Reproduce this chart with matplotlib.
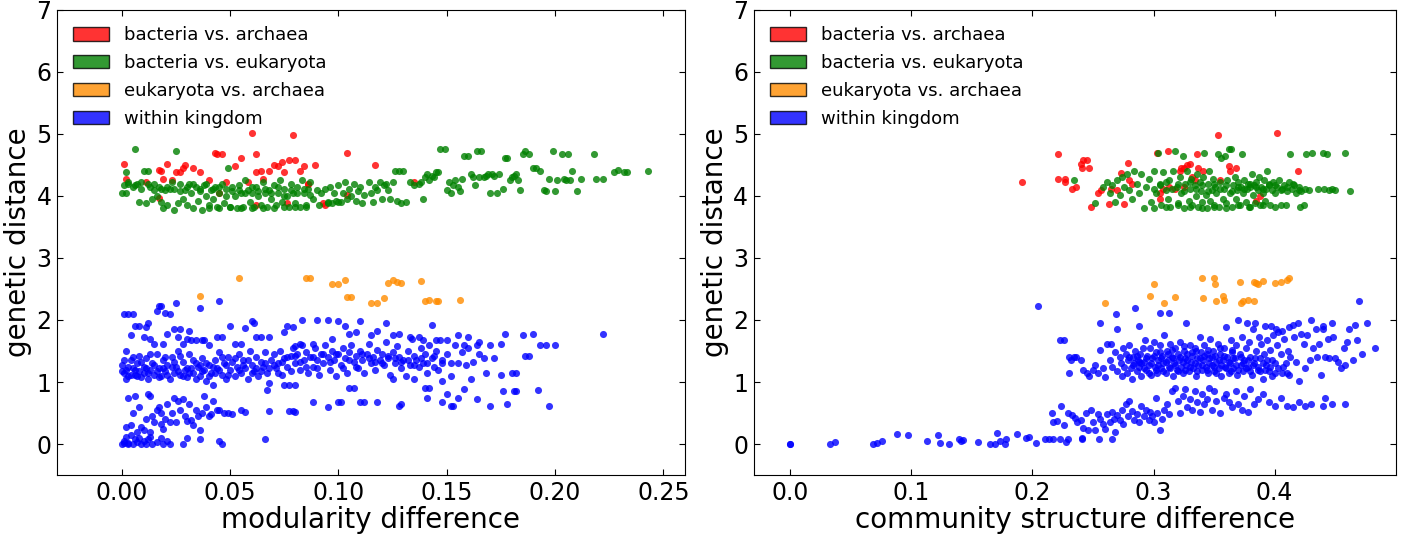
import matplotlib

matplotlib.use("Agg")

import numpy as np
import matplotlib.pyplot as plt
from matplotlib.patches import Patch

# ---- left panel: modularity difference vs genetic distance ----
mod_red = [
    (0.001, 4.52), (0.002, 4.27), (0.011, 4.22), (0.017, 4.42), (0.018, 4.40), (0.019, 4.28),
    (0.021, 4.52), (0.017, 3.97), (0.023, 4.25), (0.025, 4.38), (0.027, 4.38), (0.028, 4.45),
    (0.029, 4.50), (0.033, 4.45), (0.036, 4.38), (0.040, 4.25), (0.043, 4.70), (0.044, 4.68),
    (0.046, 4.67), (0.048, 4.22), (0.052, 4.48), (0.055, 4.62), (0.058, 4.22), (0.060, 5.02),
    (0.062, 4.68), (0.062, 4.38), (0.064, 4.40), (0.065, 4.28), (0.068, 4.40), (0.070, 4.50),
    (0.072, 4.48), (0.074, 4.55), (0.075, 4.38), (0.077, 4.58), (0.079, 4.98), (0.080, 4.58),
    (0.082, 4.40), (0.084, 4.48), (0.086, 4.20), (0.089, 4.50), (0.076, 3.88), (0.062, 3.85),
    (0.093, 3.88), (0.094, 3.85), (0.104, 4.70), (0.104, 4.02), (0.117, 4.50), (0.135, 4.22),
    (0.045, 4.05), (0.086, 4.20),
]

mod_green = [
    (0.000, 4.05), (0.001, 4.18), (0.002, 4.38), (0.002, 4.05), (0.003, 4.20), (0.005, 4.15),
    (0.006, 4.75), (0.007, 4.20), (0.008, 3.90), (0.009, 4.12), (0.010, 4.40), (0.011, 3.88),
    (0.012, 4.40), (0.013, 4.15), (0.014, 3.95), (0.015, 4.20), (0.016, 4.00), (0.017, 4.15),
    (0.018, 3.90), (0.019, 3.80), (0.020, 4.10), (0.021, 3.85), (0.022, 4.12), (0.023, 4.22),
    (0.024, 3.78), (0.025, 4.72), (0.026, 3.88), (0.027, 4.20), (0.028, 3.95), (0.029, 4.10),
    (0.030, 3.85), (0.031, 4.20), (0.032, 4.05), (0.033, 3.80), (0.034, 4.15), (0.035, 3.92),
    (0.036, 4.08), (0.037, 3.78), (0.038, 4.18), (0.039, 4.00), (0.040, 3.85), (0.041, 4.10),
    (0.042, 3.95), (0.043, 4.15), (0.044, 3.82), (0.045, 4.05), (0.046, 4.20), (0.047, 3.88),
    (0.048, 4.12), (0.049, 4.45), (0.050, 3.82), (0.051, 4.15), (0.052, 4.00), (0.053, 3.80),
    (0.054, 4.18), (0.055, 4.05), (0.056, 3.82), (0.057, 4.25), (0.058, 4.10), (0.059, 3.90),
    (0.060, 4.05), (0.061, 3.82), (0.062, 4.15), (0.063, 4.00), (0.064, 3.85), (0.065, 4.22),
    (0.066, 4.05), (0.067, 3.82), (0.068, 4.10), (0.069, 3.95), (0.070, 4.18), (0.071, 3.85),
    (0.072, 4.05), (0.073, 4.25), (0.074, 3.90), (0.075, 4.12), (0.076, 4.00), (0.077, 3.82),
    (0.078, 4.20), (0.079, 4.05), (0.080, 3.88), (0.081, 4.15), (0.082, 3.82), (0.083, 4.25),
    (0.084, 4.05), (0.085, 3.82), (0.086, 4.12), (0.087, 4.22), (0.088, 3.95), (0.090, 4.10),
    (0.091, 3.85), (0.092, 4.05), (0.094, 4.12), (0.095, 3.90), (0.096, 4.15), (0.097, 3.88),
    (0.098, 4.05), (0.099, 3.92), (0.100, 4.18), (0.101, 3.90), (0.102, 4.05), (0.103, 4.22),
    (0.104, 3.95), (0.105, 4.12), (0.106, 4.00), (0.107, 4.20), (0.108, 3.92), (0.109, 4.08),
    (0.110, 4.15), (0.111, 3.88), (0.112, 4.02), (0.114, 4.22), (0.115, 4.05), (0.116, 3.90),
    (0.117, 4.15), (0.118, 4.10), (0.119, 4.22), (0.120, 3.95), (0.121, 4.18), (0.122, 4.20),
    (0.123, 4.10), (0.124, 3.95), (0.125, 4.22), (0.126, 4.40), (0.127, 3.92), (0.128, 4.40),
    (0.129, 3.88), (0.130, 4.40), (0.131, 3.90), (0.133, 4.22), (0.135, 4.18), (0.137, 4.20),
    (0.138, 4.22), (0.139, 3.95), (0.140, 4.30), (0.141, 4.35), (0.142, 4.25), (0.143, 4.32),
    (0.144, 4.30), (0.145, 4.38), (0.146, 4.38), (0.147, 4.75), (0.149, 4.75), (0.150, 4.10),
    (0.151, 4.22), (0.152, 4.05), (0.153, 4.18), (0.154, 4.25), (0.155, 4.15), (0.156, 4.08),
    (0.157, 4.28), (0.158, 4.65), (0.160, 4.65), (0.161, 4.35), (0.162, 4.30), (0.163, 4.18),
    (0.164, 4.72), (0.165, 4.30), (0.166, 4.72), (0.167, 4.30), (0.168, 4.32), (0.169, 4.35),
    (0.170, 4.05), (0.171, 4.35), (0.172, 4.33), (0.173, 4.05), (0.174, 4.35), (0.176, 4.12),
    (0.177, 4.62), (0.178, 4.62), (0.179, 4.25), (0.180, 4.30), (0.181, 4.32), (0.182, 4.35),
    (0.183, 4.25), (0.184, 4.10), (0.185, 4.68), (0.186, 4.72), (0.188, 4.68), (0.190, 4.45),
    (0.191, 4.45), (0.193, 4.40), (0.195, 4.10), (0.196, 4.08), (0.197, 4.28), (0.199, 4.72),
    (0.200, 4.08), (0.201, 4.25), (0.203, 4.68), (0.204, 4.28), (0.205, 4.25), (0.206, 4.68),
    (0.207, 4.25), (0.208, 4.40), (0.210, 4.08), (0.212, 4.28), (0.218, 4.68), (0.219, 4.28),
    (0.222, 4.28), (0.227, 4.38), (0.229, 4.42), (0.232, 4.38), (0.233, 4.38), (0.243, 4.40),
    (0.003, 4.22), (0.006, 4.18), (0.009, 4.22), (0.012, 4.20), (0.015, 4.10), (0.018, 4.12),
    (0.021, 4.15), (0.024, 4.12), (0.027, 4.08), (0.030, 4.15), (0.033, 4.20), (0.036, 4.12),
    (0.039, 4.20), (0.042, 4.12), (0.045, 4.15), (0.048, 4.00), (0.051, 4.08), (0.054, 4.10),
    (0.057, 4.05), (0.060, 4.15), (0.063, 4.08), (0.066, 4.12), (0.069, 4.05), (0.072, 4.15),
    (0.075, 4.00), (0.078, 4.10), (0.081, 4.05), (0.084, 4.12), (0.087, 4.02), (0.040, 3.80),
    (0.045, 3.80), (0.055, 3.80), (0.065, 3.80), (0.070, 3.80), (0.075, 3.82), (0.080, 3.82),
    (0.085, 3.85), (0.050, 3.82), (0.060, 3.80), (0.095, 3.88), (0.100, 3.90),
]

mod_orange = [
    (0.036, 2.38), (0.054, 2.68), (0.085, 2.68), (0.087, 2.68), (0.097, 2.58), (0.100, 2.58),
    (0.103, 2.65), (0.104, 2.37), (0.106, 2.37), (0.115, 2.28), (0.118, 2.28), (0.121, 2.35),
    (0.123, 2.60), (0.125, 2.65), (0.127, 2.62), (0.129, 2.60), (0.138, 2.63), (0.140, 2.30),
    (0.142, 2.33), (0.145, 2.30), (0.146, 2.30), (0.156, 2.33),
]

mod_blue = [
    # near-zero cluster
    (0.000, 0.00), (0.001, 0.05), (0.002, 0.12), (0.003, 0.02), (0.004, 0.15), (0.005, 0.00),
    (0.006, 0.08), (0.007, 0.03), (0.008, 0.10), (0.009, 0.00), (0.010, 0.05), (0.011, 0.00),
    (0.012, 0.08), (0.013, 0.12), (0.014, 0.00), (0.016, 0.03), (0.018, 0.10), (0.019, 0.00),
    (0.021, 0.05), (0.022, 0.00), (0.028, 0.00), (0.030, 0.10), (0.036, 0.08), (0.045, 0.05),
    (0.046, 0.00), (0.066, 0.08), (0.004, 0.30), (0.002, 0.28), (0.003, 0.00), (0.001, 0.02),
    # lower group
    (0.003, 0.75), (0.005, 0.50), (0.006, 0.78), (0.008, 0.60), (0.009, 0.28), (0.010, 0.23),
    (0.011, 0.40), (0.012, 0.80), (0.013, 0.78), (0.014, 0.45), (0.015, 0.35), (0.016, 0.55),
    (0.017, 0.60), (0.018, 0.50), (0.019, 0.25), (0.020, 0.40), (0.021, 0.65), (0.022, 0.35),
    (0.023, 0.50), (0.024, 0.75), (0.025, 0.36), (0.026, 0.70), (0.027, 0.55), (0.028, 0.72),
    (0.029, 0.45), (0.030, 0.37), (0.031, 0.65), (0.032, 0.38), (0.033, 0.30), (0.034, 0.55),
    (0.035, 0.45), (0.036, 0.22), (0.037, 0.50), (0.038, 0.78), (0.039, 0.60), (0.040, 0.45),
    (0.041, 0.48), (0.042, 0.70), (0.044, 0.55), (0.045, 0.55), (0.047, 0.50), (0.049, 0.50),
    (0.051, 0.48), (0.055, 0.55), (0.057, 0.52), (0.068, 0.53), (0.077, 0.53), (0.079, 0.53),
    (0.080, 0.52), (0.007, 0.20), (0.013, 0.20), (0.018, 0.32),
    # main band
    (0.000, 1.28), (0.001, 1.15), (0.002, 1.20), (0.002, 1.50), (0.003, 1.10), (0.004, 1.35),
    (0.005, 1.22), (0.006, 1.12), (0.007, 1.30), (0.008, 1.18), (0.008, 1.42), (0.009, 1.08),
    (0.010, 1.25), (0.011, 1.38), (0.012, 1.15), (0.013, 1.20), (0.014, 1.30), (0.015, 1.12),
    (0.016, 1.45), (0.017, 1.22), (0.018, 1.10), (0.019, 1.35), (0.020, 1.18), (0.021, 1.28),
    (0.022, 1.05), (0.023, 1.40), (0.024, 1.15), (0.025, 1.25), (0.026, 1.50), (0.027, 1.12),
    (0.028, 1.32), (0.029, 1.20), (0.030, 1.08), (0.031, 1.45), (0.032, 1.22), (0.033, 1.15),
    (0.034, 1.30), (0.035, 1.25), (0.036, 1.10), (0.037, 1.38), (0.038, 1.20), (0.039, 1.02),
    (0.040, 1.28), (0.041, 1.15), (0.042, 0.95), (0.043, 1.35), (0.044, 1.22), (0.045, 1.48),
    (0.046, 1.12), (0.047, 1.30), (0.048, 1.05), (0.049, 1.40), (0.050, 1.20), (0.051, 1.32),
    (0.052, 1.10), (0.053, 1.25), (0.054, 1.45), (0.055, 1.15), (0.056, 1.35), (0.057, 1.22),
    (0.058, 1.05), (0.059, 1.50), (0.060, 1.28), (0.061, 1.18), (0.062, 1.40), (0.063, 1.10),
    (0.064, 1.32), (0.065, 1.25), (0.066, 1.48), (0.067, 1.15), (0.068, 0.98), (0.069, 1.35),
    (0.070, 1.45), (0.071, 1.22), (0.072, 1.30), (0.073, 1.50), (0.074, 1.12), (0.075, 1.38),
    (0.076, 1.25), (0.077, 0.95), (0.078, 1.42), (0.079, 1.55), (0.080, 1.30), (0.081, 1.45),
    (0.082, 1.20), (0.083, 1.60), (0.084, 1.35), (0.085, 1.48), (0.086, 1.15), (0.087, 1.40),
    (0.088, 1.25), (0.089, 1.55), (0.090, 1.35), (0.091, 1.12), (0.092, 1.45), (0.093, 1.30),
    (0.094, 1.60), (0.095, 1.40), (0.096, 1.20), (0.097, 1.50), (0.098, 1.35), (0.099, 1.10),
    (0.100, 1.45), (0.101, 1.28), (0.102, 1.55), (0.103, 1.38), (0.104, 1.15), (0.105, 1.48),
    (0.106, 1.60), (0.107, 1.32), (0.108, 1.42), (0.109, 1.22), (0.110, 1.50), (0.111, 1.35),
    (0.112, 1.15), (0.113, 1.45), (0.114, 1.62), (0.115, 1.30), (0.116, 1.40), (0.117, 1.20),
    (0.118, 1.52), (0.119, 1.35), (0.120, 1.45), (0.121, 1.28), (0.122, 1.65), (0.123, 1.38),
    (0.124, 1.12), (0.125, 1.48), (0.126, 1.30), (0.127, 1.58), (0.128, 1.40), (0.129, 1.22),
    (0.130, 1.35), (0.131, 1.10), (0.132, 1.50), (0.133, 1.28), (0.134, 1.70), (0.135, 1.42),
    (0.136, 1.35), (0.137, 1.25), (0.138, 1.55), (0.139, 1.30), (0.140, 1.45), (0.141, 1.15),
    (0.142, 1.60), (0.143, 1.38), (0.144, 1.25), (0.145, 1.50), (0.146, 1.20), (0.147, 1.68),
    (0.148, 1.30), (0.150, 1.45), (0.152, 1.10), (0.154, 1.60), (0.155, 1.30), (0.157, 1.48),
    (0.159, 1.28), (0.160, 1.55), (0.162, 1.32), (0.164, 1.60), (0.165, 1.45), (0.167, 1.38),
    (0.168, 1.15), (0.170, 1.60), (0.172, 1.38), (0.175, 1.12), (0.177, 1.78), (0.180, 1.15),
    (0.182, 1.15), (0.185, 1.75), (0.188, 1.42), (0.190, 1.78), (0.193, 1.60), (0.196, 1.60),
    (0.200, 1.60), (0.222, 1.78),
    (0.000, 1.18), (0.001, 1.35), (0.002, 1.05), (0.003, 1.25), (0.004, 1.12), (0.005, 1.40),
    (0.006, 1.20), (0.007, 1.10), (0.009, 1.32), (0.010, 1.15), (0.011, 1.22), (0.012, 1.05),
    (0.013, 1.45), (0.015, 1.28), (0.016, 1.18), (0.017, 1.08), (0.019, 1.22), (0.020, 1.40),
    (0.021, 1.12), (0.023, 1.25), (0.024, 1.32), (0.026, 1.18), (0.027, 1.42), (0.028, 1.10),
    (0.030, 1.22), (0.031, 1.15), (0.033, 1.35), (0.034, 1.05), (0.036, 1.28), (0.037, 1.18),
    (0.039, 1.30), (0.040, 1.10), (0.042, 1.25), (0.043, 1.15), (0.045, 1.20), (0.046, 1.40),
    (0.048, 1.28), (0.049, 1.12), (0.052, 1.38), (0.054, 1.20), (0.056, 1.28), (0.058, 1.35),
    (0.060, 1.15), (0.062, 1.22), (0.064, 1.18), (0.066, 1.30), (0.068, 1.22), (0.070, 1.28),
    (0.072, 1.15), (0.074, 1.32), (0.076, 1.40), (0.078, 1.18), (0.080, 1.42), (0.082, 1.32),
    (0.085, 1.25), (0.088, 1.40), (0.090, 1.22), (0.093, 1.45), (0.096, 1.32), (0.099, 1.45),
    (0.102, 1.22), (0.105, 1.35), (0.108, 1.25), (0.111, 1.45), (0.114, 1.38), (0.117, 1.32),
    (0.120, 1.30), (0.123, 1.42), (0.126, 1.38), (0.129, 1.32), (0.132, 1.35), (0.135, 1.28),
    (0.138, 1.38), (0.141, 1.30), (0.144, 1.42), (0.148, 1.35), (0.152, 1.30),
    # upper sparse
    (0.001, 2.10), (0.003, 2.10), (0.005, 2.10), (0.004, 1.75), (0.006, 1.90), (0.008, 1.90),
    (0.010, 1.72), (0.011, 1.88), (0.012, 1.95), (0.013, 1.70), (0.015, 1.62), (0.016, 2.15),
    (0.017, 2.22), (0.018, 2.22), (0.019, 1.62), (0.020, 2.12), (0.021, 1.78), (0.022, 2.10),
    (0.024, 1.85), (0.025, 2.28), (0.026, 1.72), (0.027, 1.85), (0.028, 1.62), (0.030, 1.70),
    (0.031, 1.82), (0.032, 1.68), (0.034, 1.68), (0.036, 2.20), (0.037, 1.68), (0.038, 1.68),
    (0.040, 1.60), (0.044, 1.72), (0.045, 2.30), (0.046, 1.72), (0.050, 1.90), (0.052, 1.62),
    (0.055, 1.62), (0.057, 1.87), (0.060, 1.98), (0.061, 1.95), (0.062, 1.72), (0.064, 1.72),
    (0.068, 1.72), (0.075, 1.80), (0.076, 1.90), (0.079, 1.88), (0.080, 1.58), (0.082, 1.62),
    (0.083, 2.00), (0.088, 1.62), (0.090, 2.00), (0.095, 2.00), (0.097, 1.70), (0.100, 1.98),
    (0.103, 1.90), (0.105, 1.78), (0.108, 1.80), (0.110, 1.98), (0.115, 1.75), (0.118, 1.82),
    (0.122, 1.95), (0.125, 1.75), (0.128, 1.78), (0.133, 1.72), (0.137, 1.72), (0.139, 1.68),
    (0.143, 1.92), (0.145, 1.68), (0.150, 1.68), (0.155, 1.75), (0.160, 1.72), (0.158, 1.60),
    (0.165, 1.65), (0.175, 1.62),
    # lower sparse, right side
    (0.067, 0.87), (0.075, 0.95), (0.080, 0.95), (0.088, 0.68), (0.095, 0.60), (0.100, 0.68),
    (0.101, 0.68), (0.105, 0.90), (0.107, 0.90), (0.110, 0.67), (0.112, 0.67), (0.118, 0.68),
    (0.128, 0.62), (0.129, 0.65), (0.140, 0.90), (0.142, 0.90), (0.141, 0.75), (0.148, 0.68),
    (0.150, 0.80), (0.152, 0.62), (0.153, 0.62), (0.155, 0.75), (0.158, 0.88), (0.164, 0.72),
    (0.170, 0.62), (0.176, 0.85), (0.178, 0.65), (0.181, 0.85), (0.182, 0.85), (0.192, 0.87),
    (0.197, 0.62), (0.125, 1.05), (0.135, 1.05), (0.148, 1.02), (0.161, 1.05), (0.186, 1.42),
]

# ---- right panel: community structure difference vs genetic distance ----
com_red = [
    (0.191, 4.22), (0.221, 4.67), (0.221, 4.28), (0.227, 4.28), (0.227, 4.22), (0.233, 4.12),
    (0.236, 4.15), (0.240, 4.52), (0.241, 4.45), (0.242, 4.58), (0.245, 4.58), (0.247, 4.45),
    (0.248, 3.82), (0.254, 4.05), (0.257, 4.10), (0.263, 3.87), (0.265, 4.12), (0.270, 4.10),
    (0.273, 4.37), (0.276, 3.87), (0.279, 4.53), (0.280, 4.25), (0.282, 4.20), (0.303, 4.70),
    (0.305, 3.95), (0.308, 4.12), (0.312, 4.73), (0.313, 4.15), (0.318, 4.12), (0.322, 4.40),
    (0.323, 4.45), (0.325, 4.45), (0.325, 4.15), (0.328, 4.50), (0.330, 4.52), (0.332, 4.30),
    (0.334, 4.25), (0.336, 4.68), (0.337, 4.45), (0.341, 4.40), (0.353, 4.98), (0.355, 4.25),
    (0.362, 4.48), (0.363, 4.40), (0.368, 4.45), (0.385, 3.92), (0.388, 4.00), (0.402, 5.02),
    (0.419, 4.40), (0.305, 4.05),
]

com_green = [
    (0.234, 4.25), (0.252, 3.88), (0.258, 4.15), (0.262, 4.22), (0.264, 4.05), (0.266, 4.18),
    (0.268, 3.90), (0.270, 4.25), (0.272, 4.02), (0.274, 4.30), (0.276, 4.15), (0.278, 4.35),
    (0.280, 4.10), (0.282, 3.95), (0.284, 4.40), (0.286, 4.20), (0.288, 4.05), (0.290, 4.35),
    (0.292, 3.80), (0.294, 4.15), (0.296, 4.28), (0.298, 3.90), (0.300, 4.40), (0.302, 4.05),
    (0.304, 4.70), (0.305, 4.20), (0.306, 3.85), (0.308, 4.38), (0.310, 4.10), (0.312, 3.95),
    (0.313, 4.25), (0.314, 3.82), (0.316, 4.40), (0.318, 4.72), (0.319, 4.15), (0.320, 3.88),
    (0.322, 4.30), (0.323, 4.05), (0.324, 4.65), (0.325, 3.80), (0.326, 4.20), (0.328, 4.40),
    (0.329, 3.92), (0.330, 4.12), (0.331, 4.28), (0.332, 3.85), (0.334, 4.18), (0.335, 4.00),
    (0.336, 4.35), (0.337, 3.82), (0.338, 4.22), (0.339, 4.08), (0.340, 3.90), (0.341, 4.30),
    (0.342, 4.70), (0.343, 4.02), (0.344, 3.80), (0.345, 4.20), (0.346, 4.40), (0.347, 3.92),
    (0.348, 4.10), (0.349, 4.28), (0.350, 3.85), (0.351, 4.15), (0.352, 4.05), (0.353, 4.68),
    (0.354, 3.82), (0.355, 4.22), (0.356, 4.62), (0.357, 3.95), (0.358, 4.12), (0.359, 4.65),
    (0.360, 3.88), (0.361, 4.25), (0.362, 4.75), (0.363, 4.05), (0.364, 4.75), (0.365, 3.82),
    (0.366, 4.18), (0.367, 4.30), (0.368, 3.95), (0.369, 4.10), (0.370, 4.22), (0.371, 3.85),
    (0.372, 4.15), (0.373, 4.68), (0.374, 4.05), (0.375, 4.25), (0.376, 3.90), (0.377, 4.12),
    (0.378, 4.20), (0.379, 3.82), (0.380, 4.15), (0.381, 4.35), (0.382, 4.02), (0.383, 4.18),
    (0.384, 3.88), (0.385, 4.22), (0.386, 4.10), (0.387, 4.30), (0.388, 3.85), (0.389, 4.15),
    (0.390, 4.05), (0.391, 4.25), (0.392, 3.92), (0.393, 4.12), (0.394, 4.40), (0.395, 4.18),
    (0.396, 3.85), (0.398, 4.10), (0.399, 4.22), (0.400, 4.05), (0.402, 4.15), (0.404, 4.25),
    (0.405, 3.85), (0.406, 4.12), (0.408, 4.18), (0.409, 3.85), (0.410, 4.08), (0.412, 4.22),
    (0.413, 4.68), (0.414, 4.12), (0.416, 4.18), (0.418, 4.05), (0.420, 4.15), (0.421, 3.82),
    (0.422, 4.08), (0.424, 3.85), (0.425, 4.12), (0.426, 4.68), (0.428, 4.10), (0.431, 4.70),
    (0.436, 4.12), (0.440, 4.70), (0.441, 4.12), (0.443, 4.68), (0.445, 4.10), (0.447, 4.12),
    (0.450, 4.10), (0.458, 4.70), (0.462, 4.08),
    (0.300, 4.12), (0.305, 4.18), (0.310, 4.22), (0.315, 4.12), (0.320, 4.20), (0.325, 4.08),
    (0.330, 4.22), (0.335, 4.12), (0.340, 4.18), (0.345, 4.08), (0.350, 4.20), (0.355, 4.12),
    (0.360, 4.18), (0.365, 4.08), (0.370, 4.15), (0.375, 4.12), (0.380, 4.20), (0.385, 4.15),
    (0.390, 4.12), (0.395, 4.20), (0.400, 4.18), (0.405, 4.10), (0.410, 4.15), (0.415, 4.20),
    (0.420, 4.10), (0.330, 3.82), (0.340, 3.80), (0.350, 3.82), (0.360, 3.80), (0.370, 3.85),
    (0.380, 3.82), (0.390, 3.85), (0.400, 3.82), (0.300, 3.80), (0.310, 3.82), (0.320, 3.85),
]

com_orange = [
    (0.260, 2.27), (0.297, 2.38), (0.300, 2.58), (0.309, 2.28), (0.318, 2.37), (0.340, 2.68),
    (0.341, 2.35), (0.350, 2.68), (0.351, 2.58), (0.352, 2.30), (0.357, 2.38), (0.358, 2.33),
    (0.371, 2.62), (0.372, 2.28), (0.374, 2.30), (0.378, 2.33), (0.383, 2.62), (0.385, 2.60),
    (0.386, 2.58), (0.383, 2.30), (0.390, 2.63), (0.400, 2.60), (0.405, 2.62), (0.410, 2.65),
    (0.412, 2.68),
]

com_blue = [
    # low tail
    (0.000, 0.00), (0.000, 0.00), (0.033, 0.00), (0.037, 0.04), (0.068, 0.00), (0.072, 0.01),
    (0.076, 0.05), (0.088, 0.16), (0.097, 0.15), (0.113, 0.05), (0.122, 0.14), (0.124, 0.01),
    (0.131, 0.00), (0.139, 0.08), (0.141, 0.05), (0.143, 0.07), (0.155, 0.04), (0.165, 0.00),
    (0.169, 0.00), (0.171, 0.18), (0.173, 0.05), (0.177, 0.00), (0.178, 0.08), (0.187, 0.16),
    (0.195, 0.09), (0.197, 0.12), (0.203, 0.01), (0.210, 0.08), (0.214, 0.08), (0.217, 0.08),
    (0.223, 0.08), (0.228, 0.04), (0.229, 0.08), (0.241, 0.09), (0.241, 0.08), (0.255, 0.08),
    (0.266, 0.08),
    # rising part
    (0.205, 2.22), (0.224, 0.62), (0.216, 0.50), (0.217, 0.36), (0.220, 0.37), (0.226, 0.30),
    (0.229, 0.50), (0.233, 0.47), (0.235, 0.42), (0.237, 0.35), (0.240, 0.38), (0.242, 0.26),
    (0.244, 0.50), (0.246, 0.22), (0.248, 0.55), (0.250, 0.35), (0.252, 0.22), (0.254, 0.48),
    (0.256, 0.40), (0.258, 0.33), (0.260, 0.25), (0.262, 0.48), (0.264, 0.35), (0.266, 0.52),
    (0.267, 0.40), (0.268, 0.20), (0.270, 0.47), (0.272, 0.38), (0.274, 0.55), (0.275, 0.32),
    (0.277, 0.65), (0.279, 0.45), (0.280, 0.70), (0.282, 0.53), (0.284, 0.38), (0.286, 0.48),
    (0.288, 0.35), (0.290, 0.62), (0.292, 0.45), (0.294, 0.55), (0.296, 0.38), (0.297, 0.52),
    (0.299, 0.45), (0.300, 0.35), (0.302, 0.75), (0.303, 0.50), (0.305, 0.22), (0.307, 0.40),
    (0.309, 0.55), (0.311, 0.65), (0.313, 0.48), (0.315, 0.85), (0.318, 0.90), (0.320, 0.70),
    (0.322, 0.50), (0.324, 0.78), (0.326, 0.88), (0.328, 0.60), (0.330, 0.72), (0.332, 0.55),
    (0.334, 0.85), (0.336, 0.68), (0.338, 0.52), (0.340, 0.80), (0.342, 0.65), (0.344, 0.72),
    (0.346, 0.90), (0.348, 0.55), (0.350, 0.85), (0.352, 0.70), (0.355, 0.50), (0.358, 0.75),
    (0.360, 0.80), (0.362, 0.68), (0.365, 0.60), (0.368, 0.85), (0.370, 0.65), (0.373, 0.55),
    (0.375, 0.78), (0.378, 0.52), (0.380, 0.88), (0.383, 0.65), (0.386, 0.72), (0.390, 0.80),
    (0.395, 0.68), (0.400, 0.62), (0.405, 0.75), (0.410, 0.62), (0.415, 0.60), (0.420, 0.68),
    (0.425, 0.62), (0.430, 0.65), (0.440, 0.62), (0.442, 0.75), (0.447, 0.65), (0.458, 0.65),
    # main cluster
    (0.223, 1.68), (0.226, 1.68), (0.230, 1.40), (0.232, 1.35), (0.234, 1.40), (0.236, 1.40),
    (0.230, 1.15), (0.240, 1.35), (0.242, 1.20), (0.245, 1.15), (0.247, 1.10), (0.250, 1.20),
    (0.252, 1.28), (0.254, 1.15), (0.256, 1.52), (0.256, 1.95), (0.258, 1.22), (0.260, 1.08),
    (0.262, 1.62), (0.264, 1.35), (0.265, 1.62), (0.266, 1.25), (0.268, 1.48), (0.269, 2.10),
    (0.270, 1.85), (0.270, 1.18), (0.272, 1.40), (0.273, 1.30), (0.274, 1.10), (0.275, 1.55),
    (0.276, 1.25), (0.277, 1.45), (0.278, 1.15), (0.279, 1.35), (0.280, 1.60), (0.281, 1.22),
    (0.282, 1.05), (0.283, 1.40), (0.284, 1.30), (0.285, 1.50), (0.285, 2.20), (0.286, 1.18),
    (0.287, 1.35), (0.288, 1.90), (0.288, 1.25), (0.289, 1.45), (0.290, 1.10), (0.291, 1.55),
    (0.292, 1.32), (0.293, 1.68), (0.294, 1.20), (0.295, 1.42), (0.296, 1.28), (0.297, 1.55),
    (0.298, 1.12), (0.299, 1.38), (0.300, 1.65), (0.301, 1.25), (0.302, 1.48), (0.303, 1.15),
    (0.304, 1.35), (0.305, 2.12), (0.305, 1.60), (0.306, 1.22), (0.307, 1.42), (0.308, 1.30),
    (0.309, 1.75), (0.310, 1.15), (0.311, 1.50), (0.312, 1.35), (0.313, 2.12), (0.313, 1.25),
    (0.314, 1.62), (0.315, 1.40), (0.316, 1.10), (0.317, 1.30), (0.318, 1.55), (0.319, 1.20),
    (0.320, 1.45), (0.321, 1.35), (0.322, 1.65), (0.323, 1.25), (0.324, 1.15), (0.325, 1.50),
    (0.326, 1.38), (0.327, 1.95), (0.327, 1.28), (0.328, 1.45), (0.329, 1.18), (0.330, 1.60),
    (0.331, 1.32), (0.332, 1.42), (0.333, 1.22), (0.334, 1.55), (0.335, 1.10), (0.336, 1.38),
    (0.337, 1.28), (0.338, 1.72), (0.339, 1.48), (0.340, 1.20), (0.341, 1.35), (0.342, 1.60),
    (0.343, 1.25), (0.344, 1.45), (0.345, 1.15), (0.346, 1.38), (0.347, 1.70), (0.348, 1.28),
    (0.349, 1.50), (0.350, 1.18), (0.351, 1.42), (0.352, 1.32), (0.353, 1.62), (0.354, 1.22),
    (0.355, 1.45), (0.356, 1.10), (0.357, 1.35), (0.358, 1.55), (0.359, 1.25), (0.360, 1.88),
    (0.361, 1.40), (0.362, 1.15), (0.363, 1.30), (0.364, 1.68), (0.365, 1.48), (0.366, 1.22),
    (0.367, 1.38), (0.368, 1.60), (0.369, 1.12), (0.370, 2.00), (0.371, 1.45), (0.372, 1.28),
    (0.373, 1.72), (0.374, 1.18), (0.375, 1.35), (0.376, 1.55), (0.377, 1.95), (0.378, 1.25),
    (0.379, 1.65), (0.380, 1.40), (0.381, 1.12), (0.382, 1.85), (0.383, 1.30), (0.384, 1.95),
    (0.385, 1.50), (0.386, 1.20), (0.387, 1.72), (0.388, 1.38), (0.389, 1.62), (0.390, 1.05),
    (0.391, 1.45), (0.392, 1.90), (0.393, 1.28), (0.394, 1.68), (0.395, 1.18), (0.396, 1.52),
    (0.397, 1.90), (0.398, 1.35), (0.399, 1.75), (0.400, 1.15), (0.401, 1.85), (0.402, 1.60),
    (0.403, 1.80), (0.405, 1.45), (0.406, 1.82), (0.407, 1.25), (0.408, 1.70), (0.410, 1.15),
    (0.411, 1.50), (0.412, 1.88), (0.413, 1.40), (0.415, 1.92), (0.416, 1.72), (0.418, 1.32),
    (0.419, 1.95), (0.420, 1.02), (0.422, 1.78), (0.424, 1.62), (0.425, 1.22), (0.427, 1.75),
    (0.429, 1.35), (0.430, 2.00), (0.432, 1.55), (0.434, 1.85), (0.435, 1.40), (0.437, 1.62),
    (0.438, 1.12), (0.440, 1.90), (0.440, 1.85), (0.442, 1.40), (0.444, 1.70), (0.445, 1.38),
    (0.447, 1.95), (0.448, 1.72), (0.450, 1.38), (0.452, 1.32), (0.455, 1.22), (0.457, 1.55),
    (0.458, 1.28), (0.460, 1.65), (0.461, 1.85), (0.465, 1.35), (0.466, 1.92), (0.468, 1.68),
    (0.470, 2.30), (0.472, 1.45), (0.476, 1.95), (0.483, 1.55),
    (0.290, 1.30), (0.292, 1.22), (0.294, 1.38), (0.296, 1.15), (0.298, 1.30), (0.300, 1.42),
    (0.302, 1.20), (0.304, 1.28), (0.306, 1.38), (0.308, 1.18), (0.310, 1.32), (0.312, 1.45),
    (0.314, 1.22), (0.316, 1.38), (0.318, 1.28), (0.320, 1.18), (0.322, 1.40), (0.324, 1.32),
    (0.326, 1.20), (0.328, 1.35), (0.330, 1.25), (0.332, 1.48), (0.334, 1.30), (0.336, 1.18),
    (0.338, 1.38), (0.340, 1.28), (0.342, 1.42), (0.344, 1.20), (0.346, 1.30), (0.348, 1.40),
    (0.350, 1.25), (0.352, 1.15), (0.354, 1.35), (0.356, 1.28), (0.358, 1.42), (0.360, 1.22),
    (0.362, 1.32), (0.364, 1.18), (0.366, 1.38), (0.368, 1.28), (0.370, 1.20), (0.372, 1.40),
    (0.374, 1.30), (0.376, 1.22), (0.378, 1.35), (0.380, 1.18), (0.382, 1.28), (0.384, 1.38),
    (0.386, 1.25), (0.388, 1.18), (0.390, 1.30), (0.392, 1.20), (0.394, 1.35), (0.396, 1.25),
    (0.398, 1.10), (0.400, 1.30), (0.403, 1.22), (0.406, 1.15), (0.409, 1.30), (0.412, 1.12),
    (0.280, 1.40), (0.283, 1.28), (0.286, 1.42), (0.288, 1.32), (0.305, 1.48), (0.315, 1.52),
    (0.325, 1.58), (0.335, 1.50), (0.345, 1.52), (0.355, 1.55), (0.365, 1.52),
]

labels = ["bacteria vs. archaea", "bacteria vs. eukaryota",
          "eukaryota vs. archaea", "within kingdom"]
colors = ["red", "green", "darkorange", "blue"]

panels = [
    ("modularity difference", [mod_red, mod_green, mod_orange, mod_blue],
     (-0.03, 0.26), [0.0, 0.05, 0.10, 0.15, 0.20, 0.25], "%.2f"),
    ("community structure difference", [com_red, com_green, com_orange, com_blue],
     (-0.03, 0.50), [0.0, 0.1, 0.2, 0.3, 0.4], "%.1f"),
]
positions = [[0.0402, 0.1236, 0.4432, 0.858], [0.532, 0.1236, 0.453, 0.858]]

fig = plt.figure(figsize=(14.17, 5.42), dpi=100)

for pos, (xlabel, groups, xlim, xticks, fmt) in zip(positions, panels):
    ax = fig.add_axes(pos)
    for pts, color in zip(groups, colors):
        arr = np.array(pts)
        ax.scatter(arr[:, 0], arr[:, 1], s=26, c=color, alpha=0.8, linewidths=0)
    ax.set_xlim(*xlim)
    ax.set_ylim(-0.5, 7)
    ax.set_xticks(xticks)
    ax.set_xticklabels([fmt % t for t in xticks])
    ax.set_yticks(range(0, 8))
    ax.tick_params(direction="in", top=True, right=True, length=4, labelsize=17, pad=4)
    ax.set_xlabel(xlabel, fontsize=20, labelpad=1)
    ax.set_ylabel("genetic distance", fontsize=20, labelpad=3)
    handles = [Patch(facecolor=c, edgecolor="black", alpha=0.8, linewidth=1) for c in colors]
    ax.legend(handles, labels, loc="upper left", frameon=False, fontsize=13,
              handlelength=2.0, handleheight=0.75, labelspacing=0.55,
              borderaxespad=0.5, handletextpad=0.8)

fig.savefig("out.png", dpi=100)
